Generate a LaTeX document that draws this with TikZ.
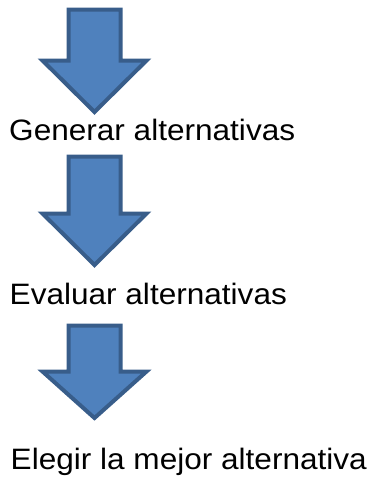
\documentclass[tikz,border=0pt]{standalone}
\usepackage{fontspec}
\setmainfont{Liberation Sans}[FakeStretch=1.07]
\usepackage{tikz}

\definecolor{flechaazul}{HTML}{4F81BD}
\definecolor{bordeazul}{HTML}{385D8A}

\begin{document}
\begin{tikzpicture}[x=1pt,y=-1pt,
	flecha/.style={fill=flechaazul,draw=bordeazul,line width=4pt,line join=miter},
	paso/.style={anchor=base west,inner sep=0pt,font=\fontsize{29.5}{30}\selectfont}]
	\useasboundingbox (0,0) rectangle (372,477);

	\draw[flecha] (68.5,9.5) -- (120.5,9.5) -- (120.5,60.5) -- (146.5,60.5) -- (94.5,112) -- (42.5,60.5) -- (68.5,60.5) -- cycle;
	\node (generar) [paso] at (9,140) {Generar alternativas};

	\draw[flecha] (68.5,156.5) -- (120.5,156.5) -- (120.5,213.5) -- (146.5,213.5) -- (94.5,265) -- (42.5,213.5) -- (68.5,213.5) -- cycle;
	\node (evaluar) [paso] at (9.5,304) {Evaluar alternativas};

	\draw[flecha] (68.5,325.5) -- (120.5,325.5) -- (120.5,371.5) -- (146.5,371.5) -- (94.5,418) -- (42.5,371.5) -- (68.5,371.5) -- cycle;
	\node (elegir) [paso] at (10.5,469) {Elegir la mejor alternativa};
\end{tikzpicture}
\end{document}
